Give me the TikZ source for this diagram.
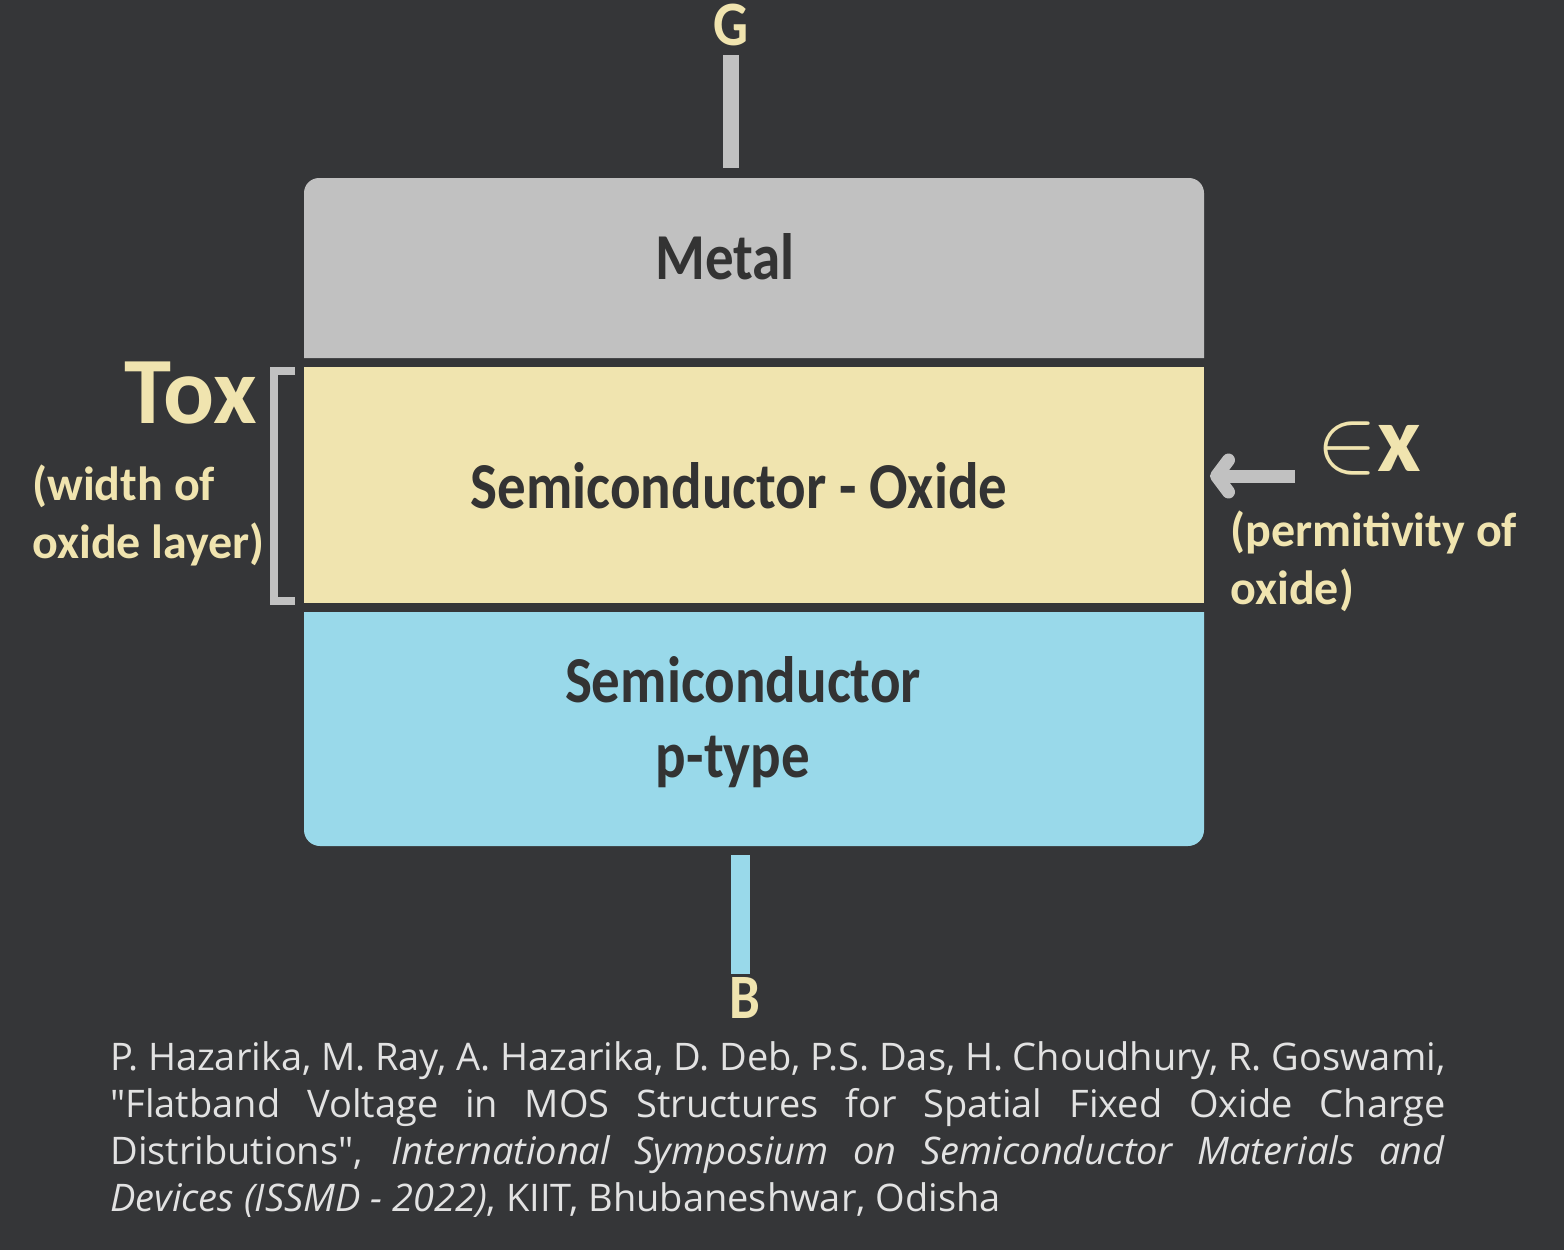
\documentclass[tikz,border=0pt]{standalone}
\usepackage{fontspec}
\usepackage{graphicx}
\setmainfont{Carlito}
\newfontfamily\citefont{Open Sans}
\usetikzlibrary{arrows.meta}

\definecolor{bgdark}{RGB}{53,54,56}
\definecolor{metalgray}{RGB}{193,193,193}
\definecolor{oxidecream}{RGB}{240,228,175}
\definecolor{semiblue}{RGB}{153,217,234}
\definecolor{inktext}{RGB}{51,51,51}
\definecolor{citegray}{RGB}{226,226,226}

\newcommand{\tallText}[1]{\scalebox{1}[1.15]{#1}}

\tikzset{
  layertext/.style={font=\bfseries\fontsize{28.5}{34}\selectfont, text=inktext, anchor=base, inner sep=0pt},
  termtext/.style={font=\bfseries\fontsize{27.5}{33}\selectfont, text=oxidecream, anchor=base, inner sep=0pt},
  sidetext/.style={font=\bfseries\fontsize{24}{29}\selectfont, text=oxidecream, align=left, anchor=base west, inner sep=0pt},
  bigtext/.style={font=\bfseries\fontsize{47.5}{57}\selectfont, text=oxidecream, inner sep=0pt},
  lead/.style={line width=8pt},
  pointer/.style={metalgray, line width=6.5pt, -{Straight Barb[length=6pt, width=16pt, round]}},
}

\begin{document}
\begin{tikzpicture}[x=0.5pt, y=-0.5pt]
  \fill[bgdark] (0,0) rectangle (1564,1250);
  \useasboundingbox (0,0) rectangle (1564,1250);

  % layers of the MOS stack
  \fill[metalgray] (304,358) -- (304,193) arc[start angle=180, end angle=90, radius=7.5pt]
    -- (1189,178) arc[start angle=90, end angle=0, radius=7.5pt] -- (1204,358) -- cycle;
  \fill[oxidecream] (304,367) rectangle (1204,603);
  \fill[semiblue] (304,612) -- (1204,612) -- (1204,830) arc[start angle=0, end angle=-90, radius=8pt]
    -- (320,846) arc[start angle=270, end angle=180, radius=8pt] -- cycle;

  \node[layertext] (metal) at (725,279) {\tallText{Metal}};
  \node[layertext] (oxide) at (739,508) {\tallText{Semiconductor - Oxide}};
  \node[layertext] (semi) at (743,702) {\tallText{Semiconductor}};
  \node[layertext] (ptype) at (733,777) {\tallText{p-type}};

  % gate and body terminals
  \coordinate (gatefoot) at (731,168);
  \coordinate (gatehead) at (731,55);
  \coordinate (bodyhead) at (740.5,855);
  \coordinate (bodyfoot) at (740.5,974);
  \draw[lead, metalgray] (gatefoot) -- (gatehead);
  \draw[lead, semiblue, line width=9.5pt] (bodyhead) -- (bodyfoot);
  \node[termtext] (gate) at (731,45) {\tallText{G}};
  \node[termtext] (body) at (745,1018) {\tallText{B}};

  % oxide thickness
  \draw[metalgray, line width=4pt] (295,371) -- (274,371) -- (274,601) -- (295,601);
  \node[bigtext, anchor=base east] (tox) at (257,423) {Tox};
  \node[sidetext] (toxnote) at (32,558) {(width of\\oxide layer)};

  % oxide permittivity
  \node[bigtext, anchor=base west] (epsx) at (1316,471) {\scalebox{4.6}{\normalsize$\in$}x};
  \node[sidetext] (epsnote) at (1230,604) {(permitivity of\\oxide)};
  \coordinate (arrowtail) at (1295,476);
  \coordinate (arrowtip) at (1210,476);
  \draw[pointer] (arrowtail) -- (arrowtip);

  % reference
  \node[anchor=base west, align=left, inner sep=0pt, text=citegray,
        font=\citefont\fontsize{19}{23.5}\selectfont] (cite) at (110,1211)
    {\makebox[667.5pt][s]{P. Hazarika, M. Ray, A. Hazarika, D. Deb, P.S. Das, H. Choudhury, R. Goswami,}\\
     \makebox[667.5pt][s]{"Flatband Voltage in MOS Structures for Spatial Fixed Oxide Charge}\\
     \makebox[667.5pt][s]{Distributions", \textit{International Symposium on Semiconductor Materials and}}\\
     \textit{Devices (ISSMD - 2022)}, KIIT, Bhubaneshwar, Odisha};
\end{tikzpicture}
\end{document}
